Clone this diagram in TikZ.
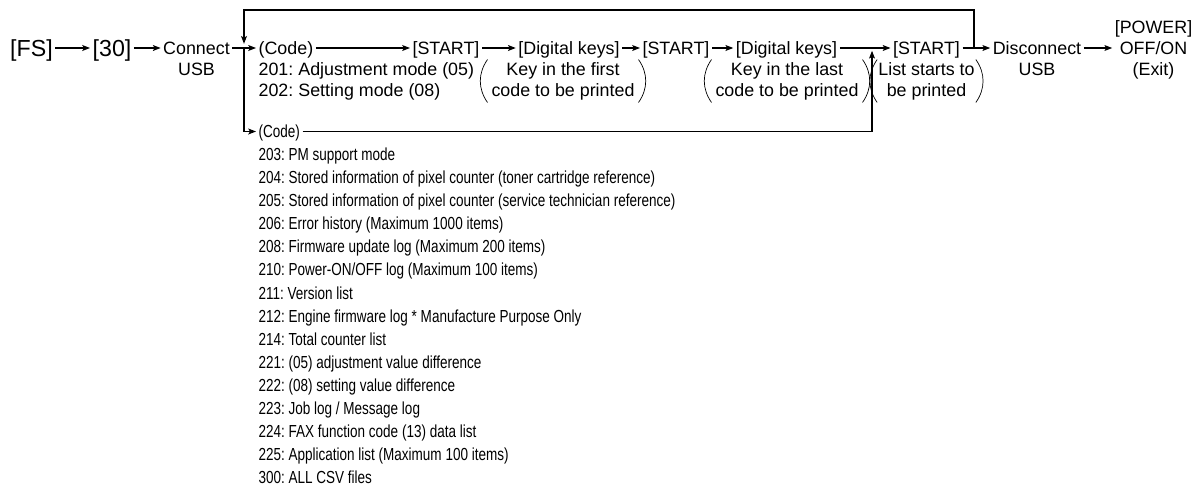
\documentclass[tikz,border=0pt]{standalone}
\usepackage{fontspec}
\setmainfont{Liberation Sans}
\newfontfamily\narrowfont{Liberation Sans}[FakeStretch=0.775]
\usepackage{tikz}
\usetikzlibrary{arrows.meta}
\frenchspacing
\newcommand{\rowfont}{\fontsize{12.7}{14.9}\selectfont}
\newcommand{\listfont}{\narrowfont\fontsize{12.4}{16.4}\selectfont}
\newcommand{\bigfont}{\fontsize{16.5}{19}\selectfont}

\begin{document}
\begin{tikzpicture}[
    x=0.025cm,
    y=-0.025cm,
    >={Stealth[length=5.5pt,width=4.2pt,inset=1.2pt]},
    line width=0.75pt,
    font=\rowfont,
    lbl/.style={
        inner sep=1.5pt,
        text height=9.1pt,
        text depth=0pt
    },
    menu/.style={
        lbl,
        font=\bigfont,
        text height=11.8pt
    },
    grp/.style={
        align=center,
        inner xsep=2.5pt,
        inner ysep=1.5pt
    },
    paren/.style={
        line width=0.5pt
    },
    listtext/.style={
        align=left,
        inner sep=0pt,
        font=\listfont
    }
]

\useasboundingbox (0,0) rectangle (1202,488);

\node[menu] (fs) at (31.5,48) {[FS]};
\node[menu] (n30) at (112,48) {[30]};

\node[lbl] (connect) at (196.5,48) {Connect};
\node[lbl] (usbA) at (196.5,69) {USB};

\node[lbl, anchor=west] (codeA) at (256,48) {(Code)};
\node[lbl, anchor=west] (modeA) at (256,69) {201: Adjustment mode (05)};
\node[lbl, anchor=west] (modeB) at (256,90) {202: Setting mode (08)};

\node[lbl] (startA) at (446,48) {[START]};
\node[lbl] (keysA) at (569,48) {[Digital keys]};
\node[lbl] (startB) at (676,48) {[START]};
\node[lbl] (keysB) at (786.5,48) {[Digital keys]};
\node[lbl] (startC) at (926.5,48) {[START]};

\node[grp] (firstcode) at (563,81)
{Key in the first\\code to be printed};
\node[grp] (lastcode) at (787,81)
{Key in the last\\code to be printed};
\node[grp, inner xsep=0.5pt] (printing) at (926.5,81)
{List starts to\\be printed};

\node[lbl] (disconnect) at (1037,48) {Disconnect};
\node[lbl] (usbB) at (1037,69) {USB};

\node[align=center, inner sep=1.5pt] (power) at (1153.5,49.5)
{[POWER]\\OFF/ON\\(Exit)};

\node[lbl, anchor=west, font=\listfont, text height=8.9pt] (codeB) at (256,131.5)
{(Code)};

\node[listtext, anchor=north west] (codelist) at (258,147.5)
{203: PM support mode\\
204: Stored information of pixel counter (toner cartridge reference)\\
205: Stored information of pixel counter (service technician reference)\\
206: Error history (Maximum 1000 items)\\
208: Firmware update log (Maximum 200 items)\\
210: Power-ON/OFF log (Maximum 100 items)\\
211: Version list\\
212: Engine firmware log * Manufacture Purpose Only\\
214: Total counter list\\
221: (05) adjustment value difference\\
222: (08) setting value difference\\
223: Job log / Message log\\
224: FAX function code (13) data list\\
225: Application list (Maximum 100 items)\\
300: ALL CSV files};

\coordinate (splitL) at (244,48);
\coordinate (splitR) at (974,48);
\coordinate (mergeM) at (872,48);
\coordinate (topL) at (244,10);

\draw[->] (fs) -- (n30);
\draw[->] (n30) -- (connect);
\draw[->] (connect) -- (codeA);
\draw[->] (codeA) -- (startA);
\draw[->] (startA) -- (keysA);
\draw[->] (keysA) -- (startB);
\draw[->] (startB) -- (keysB);
\draw[->] (keysB) -- (startC);
\draw[->] (startC) -- (disconnect);
\draw[->] (disconnect) -- (disconnect -| power.west);

\draw[->, shorten >=3pt]
(splitR) |- (topL) -- (splitL);

\draw[->]
(splitL) |- (codeB);

\draw[->, shorten >=2pt]
(codeB) -| (mergeM);

\draw[paren] (firstcode.north west) to[bend right=35] (firstcode.south west);
\draw[paren] (firstcode.north east) to[bend left=35] (firstcode.south east);
\draw[paren] (lastcode.north west) to[bend right=35] (lastcode.south west);
\draw[paren] (lastcode.north east) to[bend left=35] (lastcode.south east);
\draw[paren] (printing.north west) to[bend right=35] (printing.south west);
\draw[paren] (printing.north east) to[bend left=35] (printing.south east);

\end{tikzpicture}
\end{document}
